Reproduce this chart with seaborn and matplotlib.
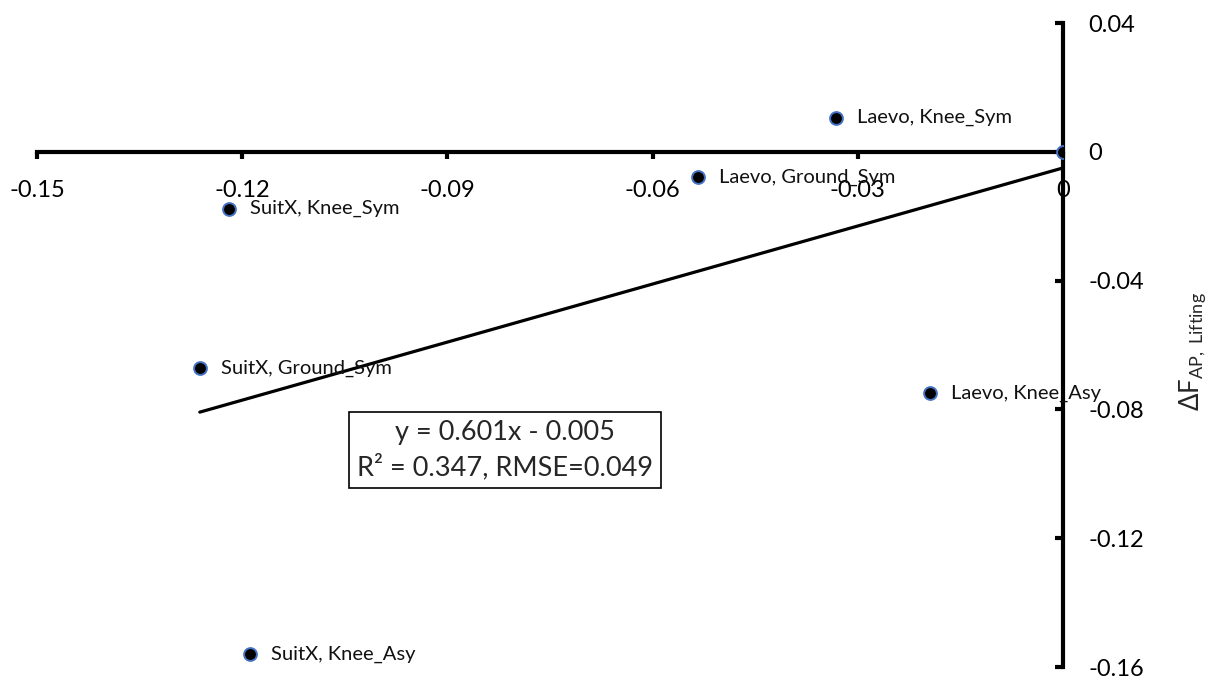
import numpy as np
import pandas as pd
import matplotlib
matplotlib.use("Agg")
import matplotlib.pyplot as plt
import seaborn as sns

# Device / condition combinations and their changes
labels = ["Laevo, Knee_Sym", "Laevo, Ground_Sym", "SuitX, Knee_Sym",
          "SuitX, Ground_Sym", "Laevo, Knee_Asy", "SuitX, Knee_Asy", ""]
x_vals = [-0.0332, -0.0534, -0.1219, -0.1262, -0.0194, -0.1189, 0.0]
y_vals = [0.0106, -0.0078, -0.0177, -0.0671, -0.0749, -0.1560, 0.0]

# Linear fit reported in the annotation
slope = 0.601
intercept = -0.005
r_squared = 0.347
rmse = 0.049

x_ticks = [-0.15, -0.12, -0.09, -0.06, -0.03, 0]
x_tick_labels = ["-0.15", "-0.12", "-0.09", "-0.06", "-0.03", "0"]
y_ticks = [-0.16, -0.12, -0.08, -0.04, 0, 0.04]
y_tick_labels = ["-0.16", "-0.12", "-0.08", "-0.04", "0", "0.04"]

df = pd.DataFrame({"label": labels, "x": x_vals, "y": y_vals})

sns.set_theme(style="white")
plt.rcParams["font.family"] = ["Lato", "DejaVu Sans"]
plt.rcParams["mathtext.fontset"] = "custom"
plt.rcParams["mathtext.rm"] = "Lato"
plt.rcParams["mathtext.it"] = "Lato"

fig = plt.figure(figsize=(12.25, 6.83), dpi=100)
ax = fig.add_axes([0.0302, 0.0234, 0.8376, 0.9429])

# regression line spanning the observed x range
fx = np.array([df["x"].min(), df["x"].max()])
ax.plot(fx, slope * fx + intercept, color="black", lw=2.3, zorder=2)

sns.scatterplot(data=df, x="x", y="y", ax=ax, color="black",
                edgecolor="#4472C4", linewidth=1.4, s=85, zorder=3)

for _, row in df.iterrows():
    if row["label"]:
        ax.annotate(row["label"], (row["x"], row["y"]), xytext=(15, 0),
                    textcoords="offset points", va="center", ha="left",
                    fontsize=14.5, color="#111111", zorder=5)

ax.text(-0.0816, -0.0926,
        f"y = {slope:.3f}x - {abs(intercept):.3f}\nR² = {r_squared:.3f}, RMSE={rmse:.3f}",
        ha="center", va="center", fontsize=19.5, linespacing=1.4,
        bbox=dict(boxstyle="square,pad=0.3", fc="white", ec="black", lw=1.2),
        zorder=4)

ax.set_xlim(-0.15, 0)
ax.set_ylim(-0.16, 0.04)

ax.spines["left"].set_visible(False)
ax.spines["top"].set_visible(False)
ax.spines["bottom"].set_position(("data", 0))
for side in ("bottom", "right"):
    ax.spines[side].set_linewidth(3)
    ax.spines[side].set_color("black")
    ax.spines[side].set_zorder(1)

ax.set_xticks(x_ticks)
ax.set_xticklabels(x_tick_labels)
ax.set_yticks(y_ticks)
ax.set_yticklabels(y_tick_labels)
ax.yaxis.tick_right()
ax.yaxis.set_label_position("right")
ax.tick_params(axis="x", direction="out", length=5, width=3, pad=15,
               labelsize=17, bottom=True, colors="black")
ax.tick_params(axis="y", direction="in", length=6, width=3, pad=18,
               labelsize=17, right=True, left=False, colors="black")

ax.set_xlabel("")
ax.set_ylabel(r"$\Delta\mathrm{F}_{\mathrm{AP,\ Lifting}}$", fontsize=18.5)
ax.yaxis.set_label_coords(1.111, 0.49)
ax.patch.set_alpha(0)

fig.savefig("out.png", dpi=100, facecolor="white")
